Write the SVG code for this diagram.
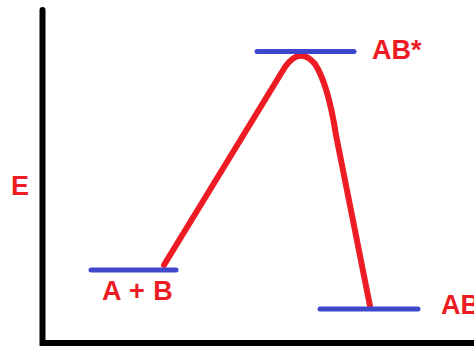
<svg xmlns="http://www.w3.org/2000/svg" width="474" height="347" viewBox="0 0 474 347">
<style>
.lbl{font-family:"Liberation Sans",Arial,sans-serif;font-weight:bold;font-size:27px;fill:#ed1c24}
.lvl{stroke:#3f48cc;stroke-width:5;stroke-linecap:round;fill:none}
.axis{stroke:#000;stroke-width:6;fill:none;stroke-linecap:round}
.curve{stroke:#ed1c24;stroke-width:6;fill:none;stroke-linecap:round;stroke-linejoin:round}
</style>
<rect width="474" height="347" fill="#fff"/>
<g id="axes">
<path class="axis" d="M42.5,10 L42.5,343 L480,343"/>
</g>
<g id="label-E"><text class="lbl" x="11" y="195" font-size="30">E</text></g>
<g id="connectors">
<path class="curve" d="M164,265 L285,67 Q300,46 315,64 Q328,84 336,135 L370,306"/>
</g>
<g id="node-AB">
<line class="lvl" x1="91" y1="270" x2="176" y2="270"/>
<text class="lbl" x="102" y="300" word-spacing="1">A + B</text>
</g>
<g id="node-ABstar">
<line class="lvl" x1="257" y1="51.5" x2="354" y2="51.5"/>
<text class="lbl" x="372" y="59">AB*</text>
</g>
<g id="node-ABprod">
<line class="lvl" x1="320" y1="309" x2="418" y2="309"/>
<text class="lbl" x="441" y="314">AB</text>
</g>
</svg>
